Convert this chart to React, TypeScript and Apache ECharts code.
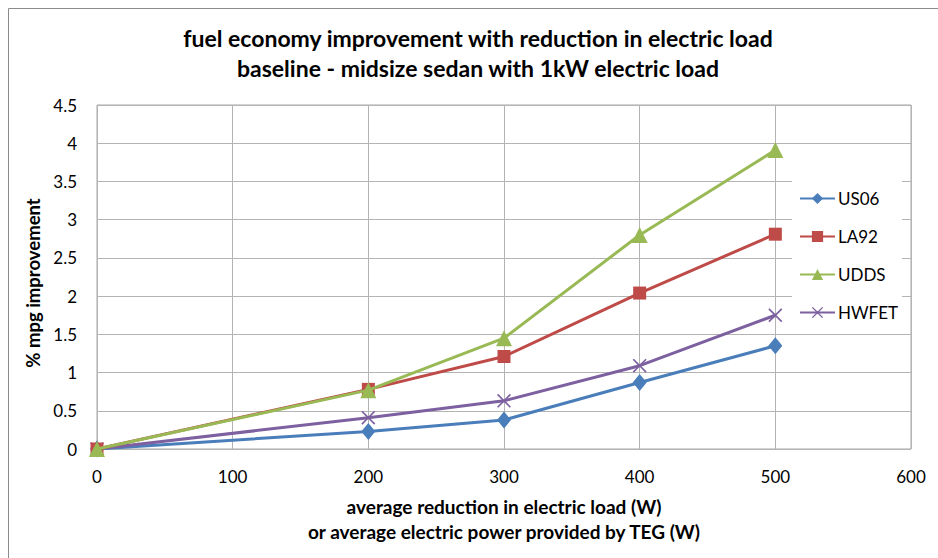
import React, { useEffect, useRef } from "react";
import * as echarts from "echarts";

const xValues = [0, 200, 300, 400, 500];
const seriesNames = ["US06", "LA92", "UDDS", "HWFET"];
const us06 = [0, 0.23, 0.38, 0.87, 1.35];
const la92 = [0, 0.78, 1.21, 2.04, 2.81];
const udds = [0, 0.77, 1.45, 2.8, 3.91];
const hwfet = [0, 0.41, 0.63, 1.09, 1.75];
const titleLines = [
  "fuel economy improvement with reduction in electric load",
  "baseline - midsize sedan with 1kW electric load",
];
const xAxisName = "average reduction in electric load (W)\nor average electric power provided by TEG (W)";
const yAxisName = "% mpg improvement";

const colors = ["#4A7EBB", "#BE4B48", "#98B954", "#7D60A0"];
const xSymbol =
  "path://M0,1.7 L1.7,0 L10,8.3 L18.3,0 L20,1.7 L11.7,10 L20,18.3 L18.3,20 L10,11.7 L1.7,20 L0,18.3 L8.3,10 Z";
const symbols = ["diamond", "rect", "triangle", xSymbol];
const symbolSizes = [[14, 17], 13, 16, 14];

export default function App() {
  const ref = useRef<HTMLDivElement>(null);
  useEffect(() => {
    if (!ref.current) return;
    const chart = echarts.init(ref.current, undefined, { renderer: "svg" });
    const dataSets = [us06, la92, udds, hwfet];
    const font = "Lato";
    chart.setOption({
      animation: false,
      backgroundColor: "#ffffff",
      textStyle: { fontFamily: font },
      grid: {
        left: 97,
        right: 27,
        top: 105,
        bottom: 109,
        show: true,
        borderColor: "#a6a6a6",
        borderWidth: 1,
        backgroundColor: "transparent",
      },
      xAxis: {
        type: "value",
        min: 0,
        max: 600,
        interval: 100,
        axisLine: { show: false },
        axisTick: { show: false },
        splitLine: { show: true, lineStyle: { color: "#b4b4b4", width: 1 } },
        axisLabel: { color: "#000", fontSize: 17, fontFamily: font, margin: 19 },
        name: xAxisName,
        nameLocation: "middle",
        nameGap: 45,
        nameTextStyle: {
          color: "#000",
          fontSize: 19,
          fontWeight: "bold",
          fontFamily: font,
          lineHeight: 25,
        },
      },
      yAxis: {
        type: "value",
        min: 0,
        max: 4.5,
        interval: 0.5,
        axisLine: { show: false },
        axisTick: { show: false },
        splitLine: { show: true, lineStyle: { color: "#b4b4b4", width: 1 } },
        axisLabel: { color: "#000", fontSize: 17, fontFamily: font, margin: 20 },
        name: yAxisName,
        nameLocation: "middle",
        nameGap: 51,
        nameTextStyle: {
          color: "#000",
          fontSize: 18.5,
          fontWeight: "bold",
          fontFamily: font,
          padding: [0, 12, 0, 0],
        },
      },
      legend: {
        orient: "vertical",
        left: 792,
        top: 175,
        padding: [15, 4, 11, 7],
        itemWidth: 35,
        itemHeight: 14,
        itemGap: 21,
        backgroundColor: "#ffffff",
        textStyle: { color: "#000", fontSize: 17, fontFamily: font, padding: [0, 0, 0, -2] },
        data: seriesNames,
      },
      graphic: [
        {
          type: "rect",
          shape: { x: 8.5, y: 8.5, width: 1000, height: 1000 },
          style: { fill: "none", stroke: "#8c8c8c", lineWidth: 1 },
          silent: true,
        },
        ...titleLines.map((t, i) => ({
          type: "text",
          x: 478,
          y: 38 + i * 30,
          style: {
            text: t,
            textAlign: "center",
            textVerticalAlign: "middle",
            fontSize: 23,
            fontWeight: "bold",
            fontFamily: font,
            fill: "#000",
          },
        })),
      ],
      series: seriesNames.map((name, i) => ({
        name,
        type: "line",
        data: xValues.map((x, j) => [x, dataSets[i][j]]),
        symbol: symbols[i],
        symbolSize: symbolSizes[i],
        showAllSymbol: true,
        lineStyle: { color: colors[i], width: 3 },
        itemStyle: { color: colors[i] },
        z: 2 + (i === 2 ? 2 : i === 1 ? 1 : 0),
      })),
    });
    return () => chart.dispose();
  }, []);
  return (
    <div
      ref={ref}
      style={{ position: "fixed", left: 0, top: 0, width: 938, height: 558 }}
    />
  );
}
